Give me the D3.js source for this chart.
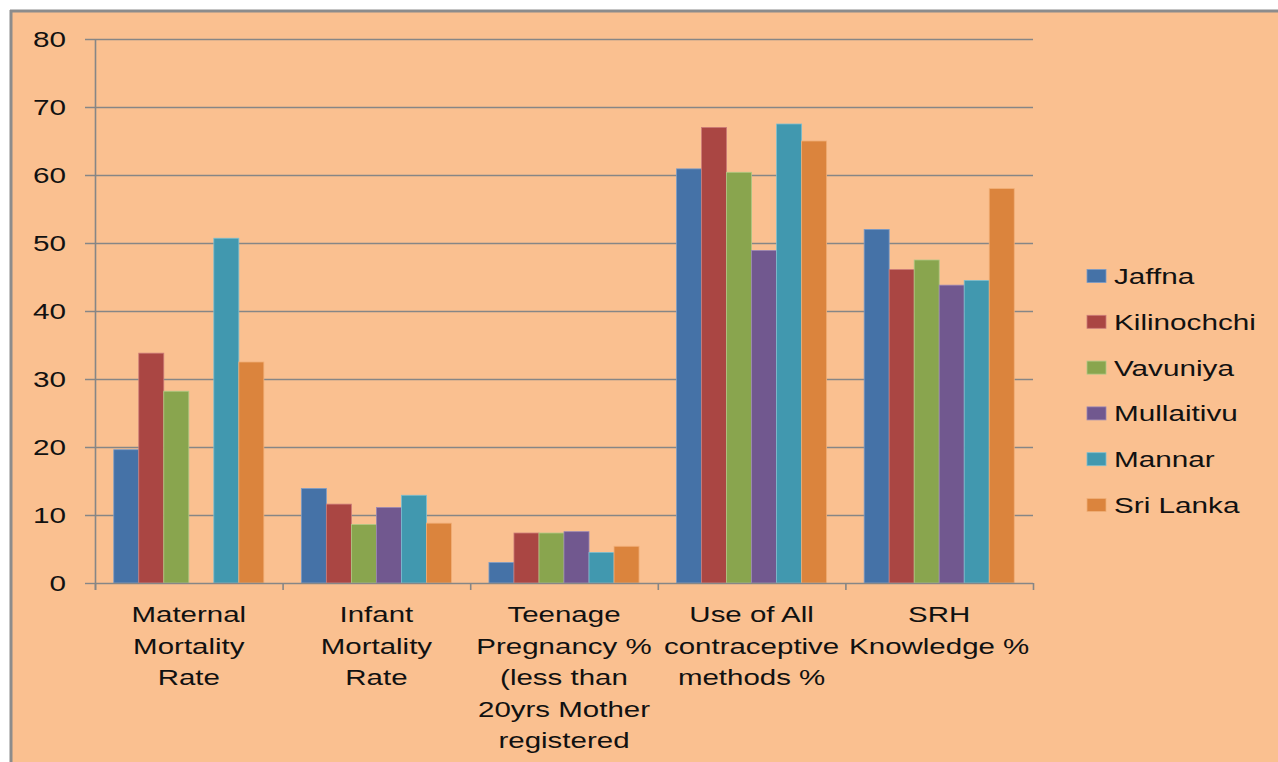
<!DOCTYPE html>
<html>
<head>
<meta charset="utf-8">
<script src="https://cdn.jsdelivr.net/npm/d3@7/dist/d3.min.js"></script>
<style>
  html, body { margin: 0; padding: 0; background: #ffffff; overflow: hidden; }
  svg { display: block; }
  text { font-family: "Liberation Sans", Arial, sans-serif; fill: #111; }
</style>
</head>
<body>
<svg id="chart" width="1278" height="762"></svg>
<script>
// ---- data ----
const categories = [
  "Maternal Mortality Rate",
  "Infant Mortality Rate",
  "Teenage Pregnancy % (less than 20yrs Mother registered",
  "Use of All contraceptive methods %",
  "SRH Knowledge %"
];
const categoryLines = [
  ["Maternal", "Mortality", "Rate"],
  ["Infant", "Mortality", "Rate"],
  ["Teenage", "Pregnancy %", "(less than", "20yrs Mother", "registered"],
  ["Use of All", "contraceptive", "methods %"],
  ["SRH", "Knowledge %"]
];
const seriesNames = ["Jaffna", "Kilinochchi", "Vavuniya", "Mullaitivu", "Mannar", "Sri Lanka"];
const jaffna      = [19.6, 13.9, 3.0, 60.9, 52.0];
const kilinochchi = [33.8, 11.6, 7.35, 67.0, 46.1];
const vavuniya    = [28.2, 8.6, 7.35, 60.4, 47.5];
const mullaitivu  = [0,    11.1, 7.55, 48.9, 43.8];
const mannar      = [50.7, 12.9, 4.5, 67.5, 44.5];
const sriLanka    = [32.5, 8.8, 5.4, 65.0, 58.0];
const seriesValues = [jaffna, kilinochchi, vavuniya, mullaitivu, mannar, sriLanka];
const yTicks = [0, 10, 20, 30, 40, 50, 60, 70, 80];
const colors = ["#4572A7", "#AA4643", "#89A54E", "#71588F", "#4198AF", "#DB843D"];
const strokeColors = ["#7A9CC8", "#CC7C79", "#B0C985", "#9A87B5", "#7CBFD1", "#F0AE77"];

// ---- layout ----
const svg = d3.select("#chart");
const W = 1278, H = 762;
const plot = { left: 95, right: 1033, top: 39, bottom: 583 };
const SX = 1.35; // horizontal text stretch

// background & frame
svg.append("rect").attr("x", 11).attr("y", 11).attr("width", W - 11).attr("height", H - 11)
  .attr("fill", "#FAC090");
svg.append("line").attr("x1", 10).attr("x2", W).attr("y1", 11).attr("y2", 11)
  .attr("stroke", "#8C8C8C").attr("stroke-width", 3);
svg.append("line").attr("x1", 11).attr("x2", 11).attr("y1", 10).attr("y2", H)
  .attr("stroke", "#8C8C8C").attr("stroke-width", 3);

const y = d3.scaleLinear().domain([0, 80]).range([plot.bottom, plot.top]);
const x0 = d3.scaleBand().domain(categories).range([plot.left, plot.right]).padding(0);
const x1 = d3.scaleBand().domain(seriesNames).range([0, x0.bandwidth()])
  .paddingInner(0).paddingOuter(0.75);

// gridlines
const gGrid = svg.append("g");
gGrid.selectAll("line").data(yTicks.filter(t => t > 0)).join("line")
  .attr("x1", plot.left - 10).attr("x2", plot.right)
  .attr("y1", d => Math.round(y(d)) + 0.5).attr("y2", d => Math.round(y(d)) + 0.5)
  .attr("stroke", "#868686").attr("stroke-width", 1.4);

// bars
const gBars = svg.append("g");
categories.forEach((cat, ci) => {
  const g = gBars.append("g").attr("transform", `translate(${x0(cat)},0)`);
  g.selectAll("rect").data(seriesNames.map((s, si) => ({ s, si, v: seriesValues[si][ci] })))
    .join("rect")
    .filter(d => d.v > 0)
    .attr("x", d => x1(d.s))
    .attr("width", x1.bandwidth())
    .attr("y", d => y(d.v))
    .attr("height", d => y(0) - y(d.v))
    .attr("fill", d => colors[d.si])
    .attr("stroke", d => strokeColors[d.si])
    .attr("stroke-width", 0.8);
});

// y axis
const gy = svg.append("g");
gy.append("line").attr("x1", plot.left + 0.5).attr("x2", plot.left + 0.5)
  .attr("y1", plot.top).attr("y2", plot.bottom + 7)
  .attr("stroke", "#868686").attr("stroke-width", 1.6);
gy.append("line").attr("x1", plot.left - 10).attr("x2", plot.left)
  .attr("y1", Math.round(y(0)) + 0.5).attr("y2", Math.round(y(0)) + 0.5)
  .attr("stroke", "#868686").attr("stroke-width", 1.4);
gy.selectAll("text").data(yTicks).join("text")
  .attr("transform", d => `translate(66,${y(d)}) scale(${SX},1)`)
  .attr("text-anchor", "end")
  .attr("dy", "0.36em")
  .style("font-size", "22px")
  .text(d => d);

// x axis
const gx = svg.append("g");
gx.append("line").attr("x1", plot.left).attr("x2", plot.right)
  .attr("y1", Math.round(y(0)) + 0.5).attr("y2", Math.round(y(0)) + 0.5)
  .attr("stroke", "#868686").attr("stroke-width", 1.6);
const bounds = categories.map(c => x0(c)).concat([x0(categories[categories.length - 1]) + x0.bandwidth()]);
gx.selectAll("line.tick").data(bounds).join("line").attr("class", "tick")
  .attr("x1", d => d + 0.5).attr("x2", d => d + 0.5)
  .attr("y1", plot.bottom).attr("y2", plot.bottom + 7)
  .attr("stroke", "#868686").attr("stroke-width", 1.6);

categories.forEach((cat, ci) => {
  const cx = x0(cat) + x0.bandwidth() / 2;
  gx.append("g").selectAll("text").data(categoryLines[ci]).join("text")
    .attr("transform", (d, i) => `translate(${cx},${622 + i * 31.5}) scale(1.31,1)`)
    .attr("text-anchor", "middle")
    .style("font-size", "22.5px")
    .text(d => d);
});

// legend
const gl = svg.append("g");
const legendY = d3.scalePoint().domain(seriesNames).range([276, 505]);
seriesNames.forEach((s, i) => {
  gl.append("rect").attr("x", 1087).attr("y", legendY(s) - 6.5)
    .attr("width", 19).attr("height", 13)
    .attr("fill", colors[i]).attr("stroke", strokeColors[i]).attr("stroke-width", 0.8);
  gl.append("text")
    .attr("transform", `translate(1114,${legendY(s)}) scale(1.35,1)`)
    .attr("dy", "0.36em")
    .style("font-size", "22px")
    .text(s);
});
</script>
</body>
</html>
